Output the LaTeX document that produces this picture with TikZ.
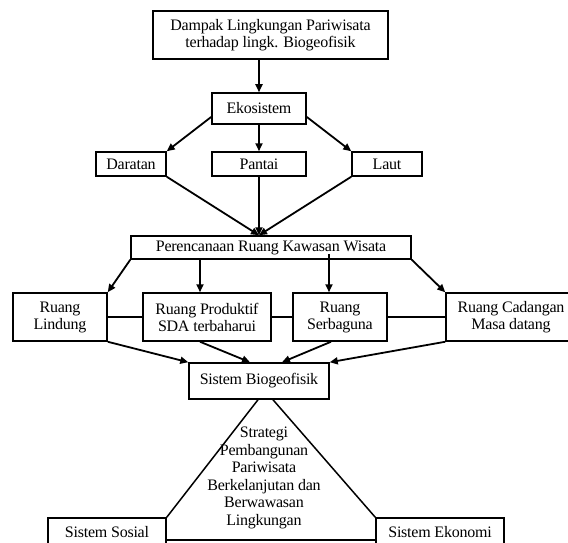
\documentclass[tikz,border=0pt]{standalone}
\usepackage{fontspec}
\setmainfont{Liberation Serif}[LetterSpace=-1.5]
\usetikzlibrary{arrows.meta,positioning}

\begin{document}
\begin{tikzpicture}[x=1pt,y=-1pt,
    box/.style={draw,line width=1.5pt,fill=white,inner sep=0pt,align=center,font=\fontsize{16}{17}\selectfont},
    arr/.style={line width=1.8pt,-{Triangle[length=8pt,width=7pt]}},
    link/.style={line width=1.5pt}]
  \useasboundingbox (0,0) rectangle (568,543);
  \clip (0,0) rectangle (568,543);
  % Dampak and ekosistem
  \node[box,minimum width=235pt,minimum height=48pt] (dampak) at (270.5,35) {Dampak Lingkungan Pariwisata\\terhadap lingk. Biogeofisik};
  \node[box,minimum width=94pt,minimum height=31pt] (eko) at (259,108.5) {Ekosistem};
  \node[box,minimum width=70pt,minimum height=24pt] (daratan) at (131,164) {Daratan};
  \node[box,minimum width=94pt,minimum height=24pt] (pantai) at (259,164) {Pantai};
  \node[box,minimum width=70pt,minimum height=24pt] (laut) at (387,164) {Laut};
  \draw[arr] (dampak.south -| eko.north) -- (eko.north);
  \draw[arr] (eko.190) -- (daratan.north east);
  \draw[arr] (eko.south) -- (pantai.north);
  \draw[arr] (eko.350) -- (laut.north west);
  % Perencanaan ruang
  \node[box,minimum width=280pt,minimum height=23pt] (peren) at (271,247.5) {Perencanaan Ruang Kawasan Wisata};
  \coordinate (conv) at (peren.north -| pantai.south);
  \draw[arr] (daratan.south east) -- (conv);
  \draw[arr] (pantai.south) -- (conv);
  \draw[arr] (laut.south west) -- (conv);
  % Ruang row
  \node[box,minimum width=94pt,minimum height=48pt] (lindung) at (60,317) {Ruang\\Lindung};
  \node[box,minimum width=128pt,minimum height=48pt] (produktif) at (207,317) {Ruang Produktif\\SDA terbaharui};
  \node[box,minimum width=94pt,minimum height=48pt] (serbaguna) at (340,317) {Ruang\\Serbaguna};
  \node[box,minimum width=130pt,minimum height=48pt] (cadangan) at (511,317) {Ruang Cadangan\\Masa datang};
  \draw[link] (lindung.east) -- (produktif.west);
  \draw[link] (produktif.east) -- (serbaguna.west);
  \draw[link] (serbaguna.east) -- (cadangan.west);
  \draw[arr] (peren.south west) -- (lindung.north east);
  \draw[arr] ([xshift=-7pt]produktif.north |- peren.south) -- ([xshift=-7pt]produktif.north);
  \draw[arr] ([xshift=-11pt]serbaguna.north |- peren.south) ++(0,-6) -- ([xshift=-11pt]serbaguna.north);
  \draw[arr] (peren.south east) -- (cadangan.north west);
  % Sistem biogeofisik
  \node[box,minimum width=140pt,minimum height=36pt] (bio) at (259,381) {Sistem Biogeofisik};
  \draw[arr] (lindung.south east) -- (bio.north west);
  \draw[arr] ([xshift=-7pt]produktif.south) -- ([xshift=-9pt]bio.north);
  \draw[arr] ([xshift=-9pt]serbaguna.south) -- ([xshift=23pt]bio.north);
  \draw[arr] (cadangan.south west) -- (bio.north east);
  % Segitiga strategi
  \node[box,minimum width=118pt,minimum height=28pt] (sosial) at (107,532) {Sistem Sosial};
  \node[box,minimum width=128pt,minimum height=28pt] (ekonomi) at (440,532) {Sistem Ekonomi};
  \coordinate (base) at (0,540);
  \draw[link] ([xshift=-1pt]bio.south) -- (sosial.north east);
  \draw[link] ([xshift=14pt]bio.south) -- (ekonomi.north west);
  \draw[link] (sosial.east |- base) -- (ekonomi.west |- base);
  \node[align=center,inner sep=0pt,font=\fontsize{16}{17.5}\selectfont] (strategi) at (264,478)
    {Strategi\\Pembangunan\\Pariwisata\\Berkelanjutan dan\\Berwawasan\\Lingkungan};
\end{tikzpicture}
\end{document}
